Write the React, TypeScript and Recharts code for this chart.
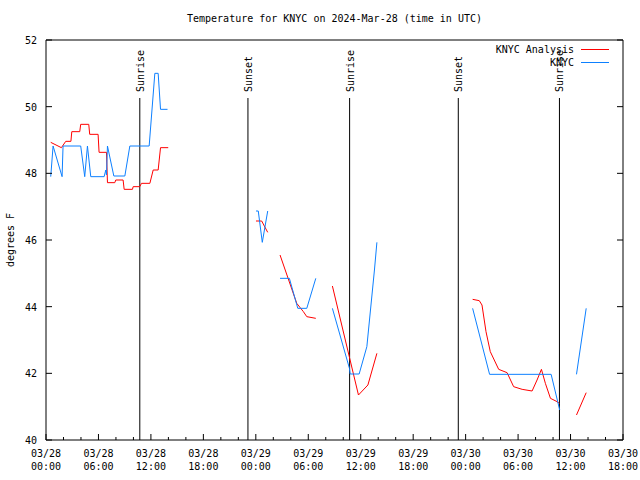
import { Legend, Line, LineChart, ReferenceLine, XAxis, YAxis } from "recharts"

const MONO = "'DejaVu Sans Mono', 'Liberation Mono', monospace"

// hourly tick marks (hours since 03/28 00:00 UTC)
const tickHours = [0, 2, 4, 6, 8, 10, 12, 14, 16, 18, 20, 22, 24, 26, 28, 30, 32, 34, 36, 38, 40, 42, 44, 46, 48, 50, 52, 54, 56, 58, 60, 62, 64, 66]
const labelHours = [0, 6, 12, 18, 24, 30, 36, 42, 48, 54, 60, 66]
const dateLabels = ["03/28", "03/28", "03/28", "03/28", "03/29", "03/29", "03/29", "03/29", "03/30", "03/30", "03/30", "03/30"]
const timeLabels = ["00:00", "06:00", "12:00", "18:00", "00:00", "06:00", "12:00", "18:00", "00:00", "06:00", "12:00", "18:00"]
const tempTicks = [40, 42, 44, 46, 48, 50, 52]

// sunrise / sunset times
const sunHours = [10.73, 23.1, 34.73, 47.16, 58.73]
const sunNames = ["Sunrise", "Sunset", "Sunrise", "Sunset", "Sunrise"]
const sunLineTop = 50.26

const seriesNames = ["KNYC Analysis", "KNYC"]

// KNYC Analysis (null = gap)
const analysisHours = [
  0.54, 1.76, 2.26, 2.85, 2.95, 3.86, 3.97, 4.89, 5.0, 5.96, 6.07, 6.92, 7.03, 7.87, 7.98, 8.82, 8.94, 9.89, 9.97, 10.73, 10.92, 11.88, 12.26, 12.83, 13.1, 13.98,
  19,
  24.02, 24.67, 25.36,
  26,
  26.77, 28.68, 29.44, 29.83, 30.86,
  31.8,
  32.76, 35.74, 36.82, 37.85,
  43,
  48.8, 49.56, 49.87, 50.33, 50.82, 51.78, 52.74, 53.49, 54.46, 55.6, 56.17, 56.67, 57.12, 57.7, 58.46, 58.73,
  59.7,
  60.68, 61.79,
]
const analysisTemps = [
  48.93, 48.77, 48.96, 48.96, 49.25, 49.25, 49.47, 49.47, 49.17, 49.17, 48.63, 48.63, 47.72, 47.72, 47.8, 47.8, 47.52, 47.52, 47.6, 47.6, 47.7, 47.7, 48.1, 48.1, 48.77, 48.77,
  null,
  46.57, 46.57, 46.23,
  null,
  45.55, 44.1, 43.85, 43.7, 43.65,
  null,
  44.62, 41.35, 41.65, 42.6,
  null,
  44.22, 44.18, 44.05, 43.25, 42.65, 42.12, 42.02, 41.6, 41.52, 41.47, 41.8, 42.12, 41.7, 41.25, 41.15, 41.1,
  null,
  40.75, 41.42,
]

// KNYC observations (null = gap)
const obsHours = [
  0.54, 0.81, 1.84, 1.95, 3.97, 4.43, 4.74, 5.12, 6.65, 6.84, 6.92, 7.03, 7.76, 9.02, 9.59, 11.8, 12.45, 12.83, 13.1, 13.9,
  19,
  24.02, 24.28, 24.74, 25.36,
  26,
  26.77, 27.84, 28.8, 29.83, 30.86,
  31.8,
  32.76, 34.71, 34.79, 35.82, 36.7, 37.57, 37.85,
  43,
  48.8, 50.74, 57.78, 58.53, 58.76,
  59.7,
  60.68, 61.79,
]
const obsTemps = [
  47.9, 48.82, 47.9, 48.82, 48.82, 47.9, 48.82, 47.9, 47.9, 48.1, 47.95, 48.82, 47.92, 47.92, 48.82, 48.82, 51.0, 51.0, 49.92, 49.92,
  null,
  46.87, 46.87, 45.93, 46.87,
  null,
  44.85, 44.85, 43.95, 43.95, 44.85,
  null,
  43.95, 42.15, 41.98, 41.98, 42.8, 45.1, 45.93,
  null,
  43.95, 41.97, 41.97, 41.15, 40.9,
  null,
  41.97, 43.95,
]

const toPoints = (hours: number[], temps: (number | null)[]) => hours.map((h, i) => ({ h, t: temps[i] }))
const analysisData = toPoints(analysisHours, analysisTemps)
const obsData = toPoints(obsHours, obsTemps)

function BottomTick({ x, y, payload }: any) {
  const i = labelHours.indexOf(payload.value)
  return (
    <g>
      <line x1={x} y1={y} x2={x} y2={y - (i >= 0 ? 6 : 3)} stroke="#000" />
      {i >= 0 && (
        <text fontFamily={MONO} fontSize={10} textAnchor="middle" fill="#000">
          <tspan x={x} y={y + 17}>{dateLabels[i]}</tspan>
          <tspan x={x} y={y + 30}>{timeLabels[i]}</tspan>
        </text>
      )}
    </g>
  )
}

function TopTick({ x, y, payload }: any) {
  const major = labelHours.includes(payload.value)
  return <line x1={x} y1={y} x2={x} y2={y + (major ? 6 : 3)} stroke="#000" />
}

function LeftTick({ x, y, payload }: any) {
  return (
    <g>
      <line x1={x} y1={y} x2={x + 6} y2={y} stroke="#000" />
      <text x={x - 9} y={y + 4} fontFamily={MONO} fontSize={10} textAnchor="end" fill="#000">
        {payload.value}
      </text>
    </g>
  )
}

function RightTick({ x, y }: any) {
  return <line x1={x} y1={y} x2={x - 6} y2={y} stroke="#000" />
}

const sunLabel = (name: string) => (props: any) => {
  const { x, y } = props.viewBox
  const lx = x + 4
  const ly = y - 6
  return (
    <text x={lx} y={ly} transform={`rotate(-90 ${lx} ${ly})`} fontFamily={MONO} fontSize={10} fill="#000">
      {name}
    </text>
  )
}

const renderLegend = ({ payload }: any) => {
  const items = [...(payload || [])].sort((a: any, b: any) => seriesNames.indexOf(a.value) - seriesNames.indexOf(b.value))
  return (
    <div style={{ fontFamily: MONO, fontSize: 10 }}>
      {items.map((e: any) => (
        <div key={e.value} style={{ display: "flex", alignItems: "center", justifyContent: "flex-end", height: 13 }}>
          <span>{e.value}</span>
          <span style={{ display: "inline-block", width: 28, height: 1, background: e.color, marginLeft: 7 }} />
        </div>
      ))}
    </div>
  )
}

export default function App() {
  return (
    <div style={{ position: "absolute", left: 0, top: 0, width: 640, height: 480, background: "#fff" }}>
      <div style={{ position: "absolute", top: 12, left: 46, width: 577, textAlign: "center", fontFamily: MONO, fontSize: 10, lineHeight: "14px" }}>
        Temperature for KNYC on 2024-Mar-28 (time in UTC)
      </div>
      <div
        style={{
          position: "absolute",
          left: 10,
          top: 240,
          transform: "translate(-50%, -50%) rotate(-90deg)",
          fontFamily: MONO,
          fontSize: 10,
          whiteSpace: "nowrap",
        }}
      >
        degrees F
      </div>
      <LineChart width={640} height={480} margin={{ top: 39, right: 16, bottom: 10, left: 6 }}>
        <XAxis
          xAxisId={0}
          dataKey="h"
          type="number"
          domain={[0, 66]}
          ticks={tickHours}
          interval={0}
          allowDataOverflow
          height={30}
          tickSize={0}
          tickMargin={0}
          tickLine={false}
          axisLine={{ stroke: "#000" }}
          tick={<BottomTick />}
        />
        <XAxis
          xAxisId="top"
          orientation="top"
          type="number"
          domain={[0, 66]}
          ticks={tickHours}
          interval={0}
          allowDataOverflow
          height={1}
          tickSize={0}
          tickMargin={0}
          tickLine={false}
          axisLine={{ stroke: "#000" }}
          tick={<TopTick />}
        />
        <YAxis
          yAxisId={0}
          type="number"
          domain={[40, 52]}
          ticks={tempTicks}
          interval={0}
          allowDataOverflow
          width={40}
          tickSize={0}
          tickMargin={0}
          tickLine={false}
          axisLine={{ stroke: "#000" }}
          tick={<LeftTick />}
        />
        <YAxis
          yAxisId="right"
          orientation="right"
          type="number"
          domain={[40, 52]}
          ticks={tempTicks}
          interval={0}
          allowDataOverflow
          width={1}
          tickSize={0}
          tickMargin={0}
          tickLine={false}
          axisLine={{ stroke: "#000" }}
          tick={<RightTick />}
        />
        {sunHours.map((h, i) => (
          <ReferenceLine
            key={`sun-${i}`}
            segment={[{ x: h, y: 40 }, { x: h, y: sunLineTop }]}
            stroke="#000"
            strokeWidth={1}
            label={sunLabel(sunNames[i])}
          />
        ))}
        <Line
          data={analysisData}
          dataKey="t"
          name="KNYC Analysis"
          type="linear"
          stroke="#ff0000"
          strokeWidth={1}
          dot={false}
          activeDot={false}
          connectNulls={false}
          isAnimationActive={false}
        />
        <Line
          data={obsData}
          dataKey="t"
          name="KNYC"
          type="linear"
          stroke="#0d80ff"
          strokeWidth={1}
          dot={false}
          activeDot={false}
          connectNulls={false}
          isAnimationActive={false}
        />
        <Legend
          layout="vertical"
          align="center"
          verticalAlign="middle"
          content={renderLegend}
          wrapperStyle={{ top: 43, left: 469, width: 140 }}
        />
      </LineChart>
    </div>
  )
}
